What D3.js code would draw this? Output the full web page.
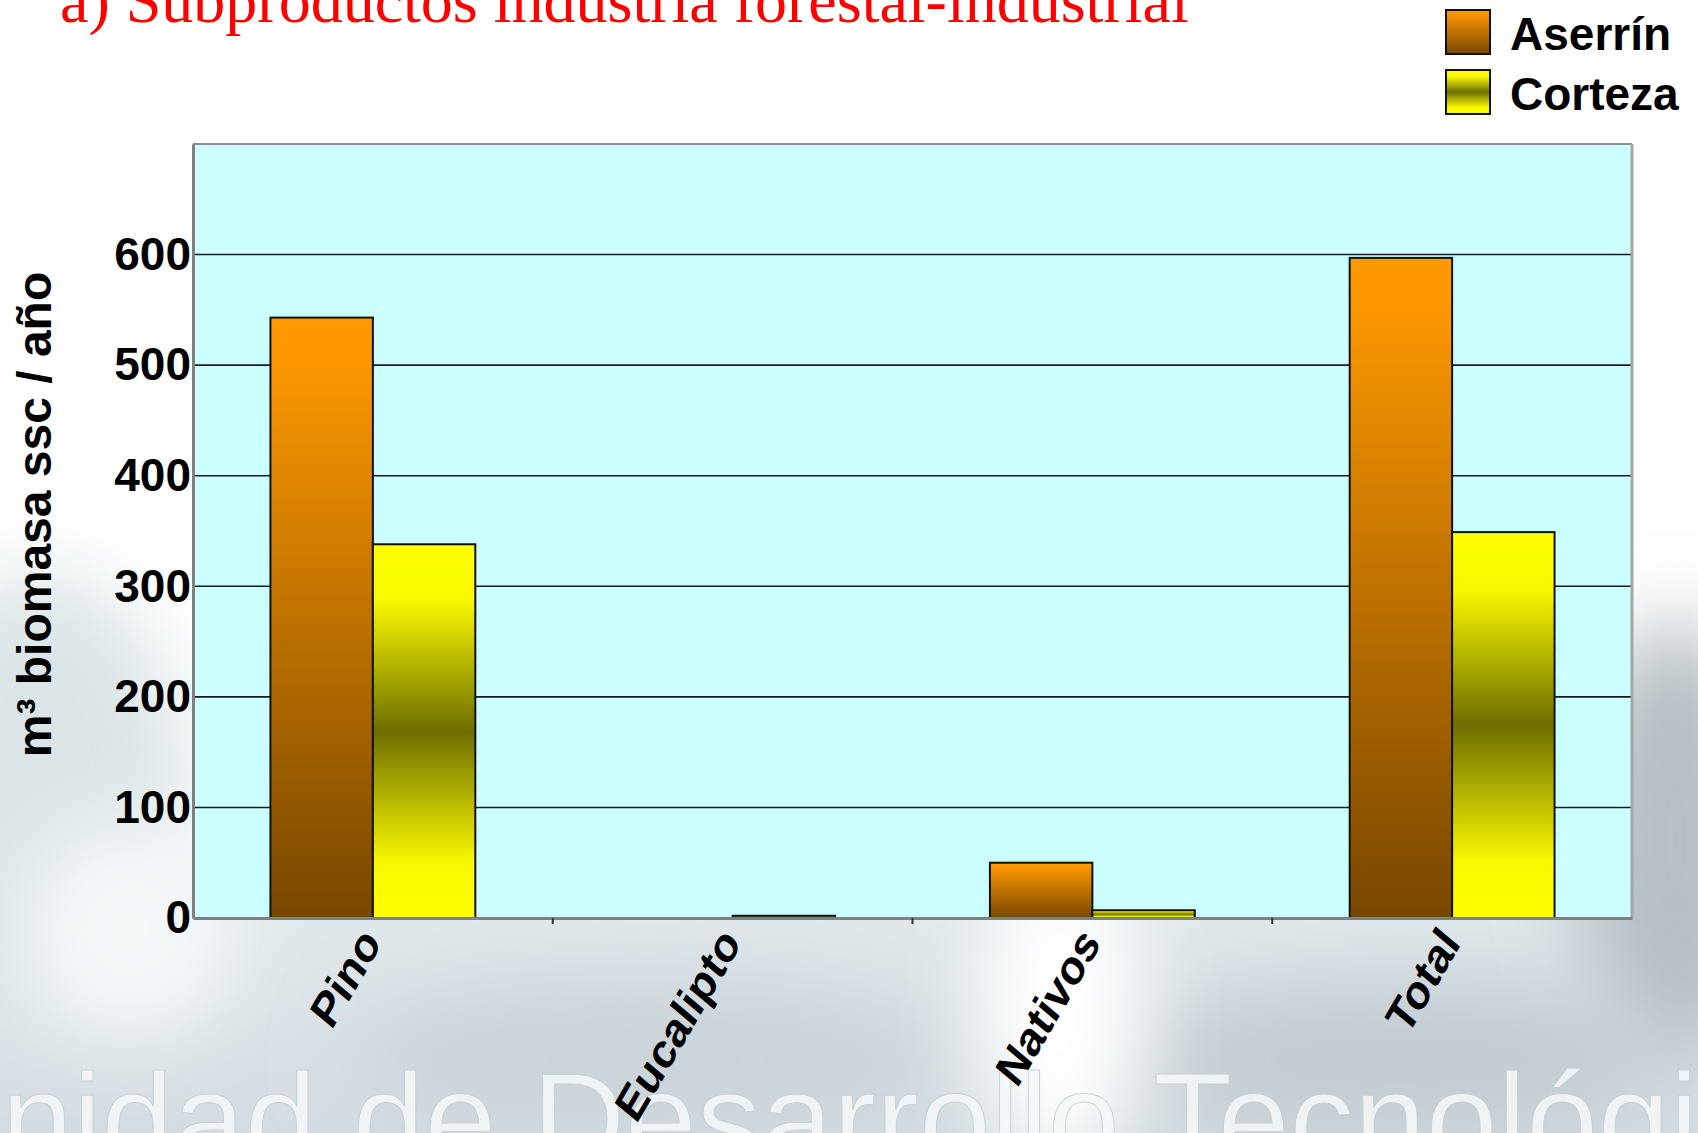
<!DOCTYPE html>
<html>
<head>
<meta charset="utf-8">
<script src="https://cdn.jsdelivr.net/npm/d3@7"></script>
<style>
  html, body { margin: 0; padding: 0; background: #ffffff; }
  svg { display: block; }
</style>
</head>
<body>
<svg id="chart" width="1698" height="1133"></svg>
<script>
// ---- data ----
const categories = ["Pino", "Eucalipto", "Nativos", "Total"];
const seriesNames = ["Aserrín", "Corteza"];
const aserrin = [543, 0, 50, 597];
const corteza = [338, 2, 7, 349];
const yTicks = [0, 100, 200, 300, 400, 500, 600];
const titleText = "a) Subproductos industria forestal-industrial";
const yTitle = "m³ biomasa ssc / año";
const watermark = "Unidad de Desarrollo Tecnológico";

const svg = d3.select("#chart");
const W = 1698, H = 1133;
const plot = { left: 193, right: 1632, top: 144, bottom: 918 };

const defs = svg.append("defs");
// gradients
const gA = defs.append("linearGradient").attr("id", "gradA").attr("x1", 0).attr("y1", 0).attr("x2", 0).attr("y2", 1);
gA.append("stop").attr("offset", "0%").attr("stop-color", "#ff9900");
gA.append("stop").attr("offset", "8%").attr("stop-color", "#fb9600");
gA.append("stop").attr("offset", "100%").attr("stop-color", "#784700");
const gC = defs.append("linearGradient").attr("id", "gradC").attr("x1", 0).attr("y1", 0).attr("x2", 0).attr("y2", 1);
gC.append("stop").attr("offset", "0%").attr("stop-color", "#ffff00");
gC.append("stop").attr("offset", "15%").attr("stop-color", "#f8f800");
gC.append("stop").attr("offset", "50%").attr("stop-color", "#6e6e00");
gC.append("stop").attr("offset", "85%").attr("stop-color", "#f8f800");
gC.append("stop").attr("offset", "100%").attr("stop-color", "#ffff00");
const gBg = defs.append("linearGradient").attr("id", "gradBg").attr("x1", 0).attr("y1", 0).attr("x2", 0).attr("y2", 1);
gBg.append("stop").attr("offset", "0%").attr("stop-color", "#dde6ea").attr("stop-opacity", 0);
gBg.append("stop").attr("offset", "25%").attr("stop-color", "#dde6ea").attr("stop-opacity", 0.9);
gBg.append("stop").attr("offset", "100%").attr("stop-color", "#d3dce1").attr("stop-opacity", 1);
const blur = defs.append("filter").attr("id", "blur").attr("x", "-50%").attr("y", "-50%").attr("width", "200%").attr("height", "200%");
blur.append("feGaussianBlur").attr("stdDeviation", 40);

// ---- background decoration (slide photo) ----
const bg = svg.append("g");
bg.append("rect").attr("width", W).attr("height", H).attr("fill", "#ffffff");
bg.append("rect").attr("x", 0).attr("y", 840).attr("width", W).attr("height", H - 840).attr("fill", "url(#gradBg)");
bg.append("ellipse").attr("cx", 40).attr("cy", 800).attr("rx", 150).attr("ry", 230).attr("fill", "#dbe5e8").attr("filter", "url(#blur)");
bg.append("ellipse").attr("cx", 1675).attr("cy", 840).attr("rx", 100).attr("ry", 220).attr("fill", "#b6bfc4").attr("filter", "url(#blur)");
bg.append("ellipse").attr("cx", 1400).attr("cy", 1060).attr("rx", 260).attr("ry", 80).attr("fill", "#c3ccd1").attr("filter", "url(#blur)");
bg.append("ellipse").attr("cx", 650).attr("cy", 1060).attr("rx", 300).attr("ry", 80).attr("fill", "#cbd4d9").attr("filter", "url(#blur)");
bg.append("ellipse").attr("cx", 1060).attr("cy", 1010).attr("rx", 80).attr("ry", 160).attr("fill", "#ffffff").attr("filter", "url(#blur)");
bg.append("ellipse").attr("cx", 130).attr("cy", 930).attr("rx", 110).attr("ry", 110).attr("fill", "#f4f8f9").attr("filter", "url(#blur)");
bg.append("text")
  .attr("x", -92).attr("y", 1164)
  .attr("font-family", "'Liberation Sans', Arial, sans-serif")
  .attr("font-size", 129)
  .attr("fill", "#f6f9fa").attr("stroke", "#c4ced3").attr("stroke-width", 1)
  .attr("opacity", 0.85)
  .text(watermark);

// ---- scales ----
const x = d3.scaleBand().domain(categories).range([plot.left, plot.right]).padding(0);
const xs = d3.scaleBand().domain(seriesNames).range([0, x.bandwidth()]).paddingInner(0).paddingOuter(0.756);
const y = d3.scaleLinear().domain([0, 700]).range([plot.bottom, plot.top]);

// plot background
svg.append("rect")
  .attr("x", plot.left).attr("y", plot.top)
  .attr("width", plot.right - plot.left).attr("height", plot.bottom - plot.top)
  .attr("fill", "#ccffff");

// gridlines
svg.append("g").selectAll("line").data(yTicks.filter(d => d > 0)).join("line")
  .attr("x1", plot.left).attr("x2", plot.right)
  .attr("y1", d => y(d)).attr("y2", d => y(d))
  .attr("stroke", "#1a1a1a").attr("stroke-width", 1.6);

// frame
svg.append("line").attr("x1", plot.left).attr("x2", plot.right).attr("y1", plot.top).attr("y2", plot.top)
  .attr("stroke", "#8c8c8c").attr("stroke-width", 2);
svg.append("line").attr("x1", plot.right).attr("x2", plot.right).attr("y1", plot.top).attr("y2", plot.bottom)
  .attr("stroke", "#a6a6a6").attr("stroke-width", 3);

// bars
const seriesData = [aserrin, corteza];
const fills = ["url(#gradA)", "url(#gradC)"];
seriesNames.forEach((s, si) => {
  svg.append("g").selectAll("rect").data(categories.map((c, i) => ({ c, v: seriesData[si][i] }))).join("rect")
    .filter(d => d.v > 0)
    .attr("x", d => x(d.c) + xs(s))
    .attr("y", d => y(d.v))
    .attr("width", xs.bandwidth())
    .attr("height", d => y(0) - y(d.v))
    .attr("fill", fills[si])
    .attr("stroke", "#111").attr("stroke-width", 2);
});

// y axis
const yAxis = d3.axisLeft(y).tickValues(yTicks).tickSize(0).tickPadding(2).tickFormat(d3.format("d"));
const gy = svg.append("g").attr("transform", `translate(${plot.left},0)`).call(yAxis);
gy.select(".domain").attr("stroke", "#808080").attr("stroke-width", 3);
gy.selectAll("text")
  .attr("font-family", "'Liberation Sans', Arial, sans-serif")
  .attr("font-weight", "bold").attr("font-size", 46).attr("fill", "#000");

// x axis
const xAxis = d3.axisBottom(x).tickSize(0).tickFormat("");
const gx = svg.append("g").attr("transform", `translate(0,${plot.bottom})`).call(xAxis);
gx.select(".domain").attr("stroke", "#808080").attr("stroke-width", 3);
gx.selectAll(".tick").remove();
// category boundary tick marks
svg.append("g").selectAll("line").data(categories.slice(1)).join("line")
  .attr("x1", d => x(d)).attr("x2", d => x(d))
  .attr("y1", plot.bottom).attr("y2", plot.bottom + 6)
  .attr("stroke", "#333").attr("stroke-width", 2);

// x labels (slanted)
svg.append("g").selectAll("text").data(categories).join("text")
  .attr("transform", d => `translate(${x(d) + x.bandwidth() / 2 - 14},${plot.bottom + 6}) scale(1,1.2) rotate(-55)`)
  .attr("text-anchor", "end")
  .attr("dy", "0.7em")
  .attr("font-family", "'Liberation Sans', Arial, sans-serif")
  .attr("font-weight", "bold").attr("font-size", 41).attr("fill", "#000")
  .text(d => d);

// y title
svg.append("text")
  .attr("transform", `translate(51,${(274 + 755) / 2}) rotate(-90)`)
  .attr("text-anchor", "middle")
  .attr("font-family", "'Liberation Sans', Arial, sans-serif")
  .attr("font-weight", "bold").attr("font-size", 48).attr("fill", "#000")
  .text(yTitle);

// title
svg.append("text")
  .attr("x", 60).attr("y", 22)
  .attr("font-family", "'Liberation Serif', 'Times New Roman', serif")
  .attr("font-size", 64).attr("fill", "#ff0000")
  .text(titleText);

// legend
const legend = svg.append("g");
seriesNames.forEach((s, i) => {
  legend.append("rect")
    .attr("x", 1446).attr("y", 10 + i * 60).attr("width", 44).attr("height", 44)
    .attr("fill", fills[i]).attr("stroke", "#111").attr("stroke-width", 2);
  legend.append("text")
    .attr("x", 1510).attr("y", 50 + i * 60)
    .attr("font-family", "'Liberation Sans', Arial, sans-serif")
    .attr("font-weight", "bold").attr("font-size", 46).attr("fill", "#000")
    .text(s);
});
</script>
</body>
</html>
